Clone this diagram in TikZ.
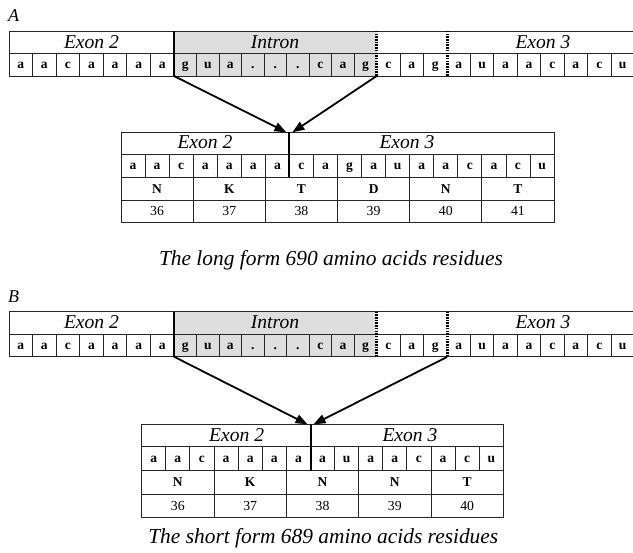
\documentclass[tikz,border=0pt]{standalone}
\usepackage{fontspec}
\setmainfont{Liberation Serif}
\usetikzlibrary{arrows.meta}

\begin{document}
\begin{tikzpicture}[x=1pt,y=-1pt,
        box/.style={draw=black!85,line width=0.9pt},
        intron/.style={fill=black!13},
        panel/.style={font=\fontsize{18}{18}\selectfont\itshape,inner sep=0pt},
        hdr/.style={font=\fontsize{19.6}{20}\selectfont\itshape,inner sep=0pt,anchor=base},
        nt/.style={font=\fontsize{13.5}{14}\selectfont\bfseries,inner sep=0pt,anchor=base},
        aa/.style={font=\fontsize{13.5}{14}\selectfont\bfseries,inner sep=0pt,anchor=base},
        num/.style={font=\fontsize{13.8}{14}\selectfont,inner sep=0pt,anchor=base},
        caption/.style={font=\fontsize{21.4}{22}\selectfont\itshape,inner sep=0pt,anchor=base},
        splice/.style={line width=1.8pt,-{Triangle[length=12pt,width=9pt]}},
        junction/.style={line width=2pt},
        site/.style={line width=3pt,dash pattern=on 1.5pt off 1.2pt},
    ]
    \clip (0,0) rectangle (633,553);

    % pre-mRNA, the same in A and B
    \foreach \py/\lab in {0/A,280.7/B}{
        \node[panel,anchor=base west] (panel\lab) at (8,22+\py) {\lab};
        \fill[intron] (174,31+\py) rectangle (376.7,76+\py);
        \draw[box] (9,31+\py) rectangle (660,76+\py);
        \draw[box] (9,53.3+\py) -- (660,53.3+\py);
        \foreach \k in {1,...,6}
            \draw[box] ({9+23.57*\k},53.3+\py) -- ({9+23.57*\k},76+\py);
        \foreach \k in {1,...,8}
            \draw[box] ({174+22.52*\k},53.3+\py) -- ({174+22.52*\k},76+\py);
        \foreach \k in {1,2,4,5,6,7,8,9,10}
            \draw[box] ({376.7+23.43*\k},53.3+\py) -- ({376.7+23.43*\k},76+\py);
        \draw[junction] (174,31+\py) -- (174,76+\py);
        \draw[site] (376.7,31+\py) -- (376.7,76+\py);
        \draw[site] (447,31+\py) -- (447,76+\py);
        \node[hdr] (ex2\lab) at (91.5,48.3+\py) {Exon 2};
        \node[hdr] (int\lab) at (275,48.3+\py) {Intron};
        \node[hdr] (ex3\lab) at (543,48.3+\py) {Exon 3};
        \foreach \l [count=\i from 0] in {a,a,c,a,a,a,a}
            \node[nt] (p\lab\i) at ({9+23.57*(\i+0.5)},68.5+\py) {\l};
        \foreach \l [count=\i from 0] in {g,u,a,.,.,.,c,a,g}
            \node[nt] (q\lab\i) at ({174+22.52*(\i+0.5)},68.5+\py) {\l};
        \foreach \l [count=\i from 0] in {c,a,g,a,u,a,a,c,a,c,u}
            \node[nt] (r\lab\i) at ({376.7+23.43*(\i+0.5)},68.5+\py) {\l};
        \coordinate (don\lab) at (174,76+\py);
    }
    \coordinate (accA) at (376.7,76);
    \coordinate (accB) at (447,357);

    % A: long form
    \coordinate (jA) at (289.4,132.3);
    \draw[box] (121,132.3) rectangle (554,222.7);
    \foreach \yy in {154,177.3,200} \draw[box] (121,\yy) -- (554,\yy);
    \foreach \k in {1,...,17} \draw[box] ({121+24.06*\k},154) -- ({121+24.06*\k},177.3);
    \foreach \k in {3,6,...,15} \draw[box] ({121+24.06*\k},177.3) -- ({121+24.06*\k},222.7);
    \draw[junction] (jA) -- (289.4,177.3);
    \node[hdr] (mex2A) at (205,148.3) {Exon 2};
    \node[hdr] (mex3A) at (407,148.3) {Exon 3};
    \foreach \l [count=\i from 0] in {a,a,c,a,a,a,a,c,a,g,a,u,a,a,c,a,c,u}
        \node[nt] (mA\i) at ({121+24.06*(\i+0.5)},170) {\l};
    \foreach \l/\n [count=\i from 0] in {N/36,K/37,T/38,D/39,N/40,T/41}{
        \node[aa] (aaA\i) at ({121+72.18*(\i+0.5)},193.2) {\l};
        \node[num] (nA\i) at ({121+72.18*(\i+0.5)},216) {\n};
    }
    \draw[splice] (donA) -- ([xshift=-3pt]jA);
    \draw[splice] (accA) -- ([xshift=3pt]jA);
    \node[caption] (capA) at (331,265.7) {The long form 690 amino acids residues};

    % B: short form
    \coordinate (jB) at (310.5,424.3);
    \draw[box] (141.7,424.3) rectangle (503.3,517.3);
    \foreach \yy in {446.7,470.7,494} \draw[box] (141.7,\yy) -- (503.3,\yy);
    \foreach \k in {1,...,14} \draw[box] ({141.7+24.11*\k},446.7) -- ({141.7+24.11*\k},470.7);
    \foreach \k in {3,6,...,12} \draw[box] ({141.7+24.11*\k},470.7) -- ({141.7+24.11*\k},517.3);
    \draw[junction] (jB) -- (310.5,470.7);
    \node[hdr] (mex2B) at (236.7,441.7) {Exon 2};
    \node[hdr] (mex3B) at (410,441.7) {Exon 3};
    \foreach \l [count=\i from 0] in {a,a,c,a,a,a,a,a,u,a,a,c,a,c,u}
        \node[nt] (mB\i) at ({141.7+24.11*(\i+0.5)},463) {\l};
    \foreach \l/\n [count=\i from 0] in {N/36,K/37,N/38,N/39,T/40}{
        \node[aa] (aaB\i) at ({141.7+72.33*(\i+0.5)},486.8) {\l};
        \node[num] (nB\i) at ({141.7+72.33*(\i+0.5)},510.3) {\n};
    }
    \draw[splice] (donB) -- ([xshift=-3pt]jB);
    \draw[splice] (accB) -- ([xshift=3pt]jB);
    \node[caption] (capB) at (323.3,544) {The short form 689 amino acids residues};
\end{tikzpicture}
\end{document}
